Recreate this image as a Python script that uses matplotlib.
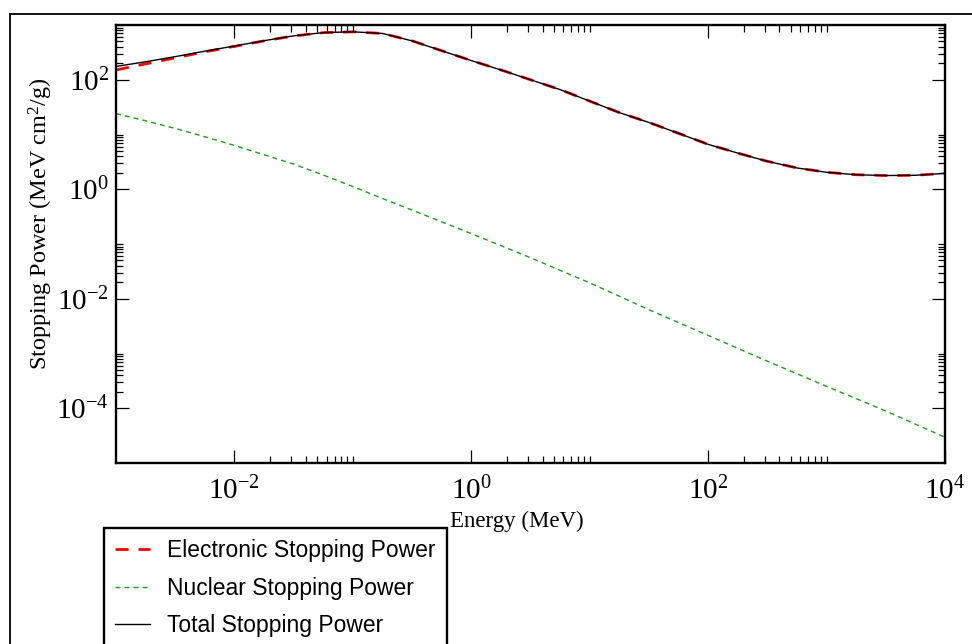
import numpy as np
import matplotlib
matplotlib.use("Agg")
import matplotlib.pyplot as plt
from matplotlib.patches import Rectangle
from matplotlib.ticker import FixedLocator, FuncFormatter, NullFormatter

plt.rcParams['font.family'] = 'serif'
plt.rcParams['font.serif'] = ['Liberation Serif', 'DejaVu Serif']
plt.rcParams['mathtext.fontset'] = 'custom'
plt.rcParams['mathtext.rm'] = 'Liberation Serif'
plt.rcParams['mathtext.it'] = 'Liberation Serif:italic'

# energies in MeV
energy = [1.00e-3, 1.78e-3, 3.16e-3, 5.62e-3, 1.00e-2, 1.78e-2, 3.16e-2, 5.62e-2,
          1.00e-1, 1.78e-1, 3.16e-1, 5.62e-1, 1.00, 1.78, 3.16, 5.62,
          1.00e1, 1.78e1, 3.16e1, 5.62e1, 1.00e2, 1.78e2, 3.16e2, 5.62e2,
          1.00e3, 1.78e3, 3.16e3, 5.62e3, 1.00e4]

# stopping powers in MeV cm^2/g
electronic = [151, 195, 251, 324, 407, 513, 631, 724,
              750, 700, 513, 339, 224, 151, 100, 66.1,
              40.7, 25.1, 16.6, 10.5, 6.61, 4.57, 3.24, 2.45,
              2.04, 1.84, 1.78, 1.80, 1.95]

nuclear = [24.0, 17.8, 12.9, 9.12, 6.31, 4.27, 2.88, 1.82,
           1.12, 0.676, 0.417, 0.254, 0.155, 0.0933, 0.0562, 0.0331,
           0.0195, 0.0111, 0.00631, 0.00367, 0.00214, 0.00124, 7.24e-4, 4.27e-4,
           2.51e-4, 1.50e-4, 8.91e-5, 5.13e-5, 2.95e-5]

total = [175, 213, 264, 333, 413, 517, 634, 726,
         751, 701, 513, 339, 224, 151, 100, 66.1,
         40.7, 25.1, 16.6, 10.5, 6.61, 4.57, 3.24, 2.45,
         2.04, 1.84, 1.78, 1.80, 1.95]

labels = ['Electronic Stopping Power', 'Nuclear Stopping Power', 'Total Stopping Power']

fig = plt.figure(figsize=(9.72, 6.44), dpi=100)
ax = fig.add_axes([116/972, 1 - 463/644, (945 - 116)/972, (463 - 25)/644])

ax.plot(energy, electronic, color='#ff0000', lw=2.0, linestyle=(0, (4.7, 3.6)), label=labels[0])
ax.plot(energy, nuclear, color='#1f9a1f', lw=1.0, linestyle=(0, (3.6, 2.9)), label=labels[1])
ax.plot(energy, total, color='black', lw=1.0, label=labels[2])

ax.set_xscale('log')
ax.set_yscale('log')
ax.set_xlim(1e-3, 1e4)
ax.set_ylim(1e-5, 1e3)

fmt = FuncFormatter(lambda v, p: r'$\mathregular{10^{%d}}$' % round(np.log10(v)))
ax.xaxis.set_major_locator(FixedLocator([1e-2, 1e0, 1e2, 1e4]))
ax.yaxis.set_major_locator(FixedLocator([1e-4, 1e-2, 1e0, 1e2]))
ax.xaxis.set_major_formatter(fmt)
ax.yaxis.set_major_formatter(fmt)
ax.xaxis.set_minor_locator(FixedLocator([m * 10.0**k for k in (-2, 0, 2) for m in range(2, 11)]))
ax.yaxis.set_minor_locator(FixedLocator([m * 10.0**k for k in (-4, -2, 0, 2) for m in range(2, 11)]))
ax.xaxis.set_minor_formatter(NullFormatter())
ax.yaxis.set_minor_formatter(NullFormatter())

ax.tick_params(which='both', direction='in', top=True, right=True, labelsize=21, width=0.9)
ax.tick_params(which='major', length=9.4)
ax.tick_params(axis='x', which='major', pad=10)
ax.tick_params(axis='y', which='major', pad=5)
ax.tick_params(which='minor', length=5)
for s in ax.spines.values():
    s.set_linewidth(1.7)

ax.set_xlabel('Energy (MeV)', fontsize=16.5)
ax.xaxis.set_label_coords((517 - 116) / 829, -0.11)
ax.set_ylabel(r'Stopping Power (MeV cm$^{2}$/g)', fontsize=17.5)
ax.yaxis.set_label_coords(-0.073, 0.545)

leg = ax.legend(loc='upper left', bbox_to_anchor=(104/972, 1 - 528/644),
                bbox_transform=fig.transFigure, frameon=True, fancybox=False,
                edgecolor='black', framealpha=1, borderaxespad=0,
                prop={'family': 'Liberation Sans', 'size': 16.5},
                handlelength=1.5, handletextpad=0.75, labelspacing=0.62,
                borderpad=0.5)
leg.get_frame().set_linewidth(1.7)

# outer frame around the figure
fig.add_artist(Rectangle((10/972, -0.2), 1.5, 1 - 14/644 + 0.2, transform=fig.transFigure,
                         fill=False, edgecolor='black', lw=1.3))

fig.savefig('out.png', dpi=100)
